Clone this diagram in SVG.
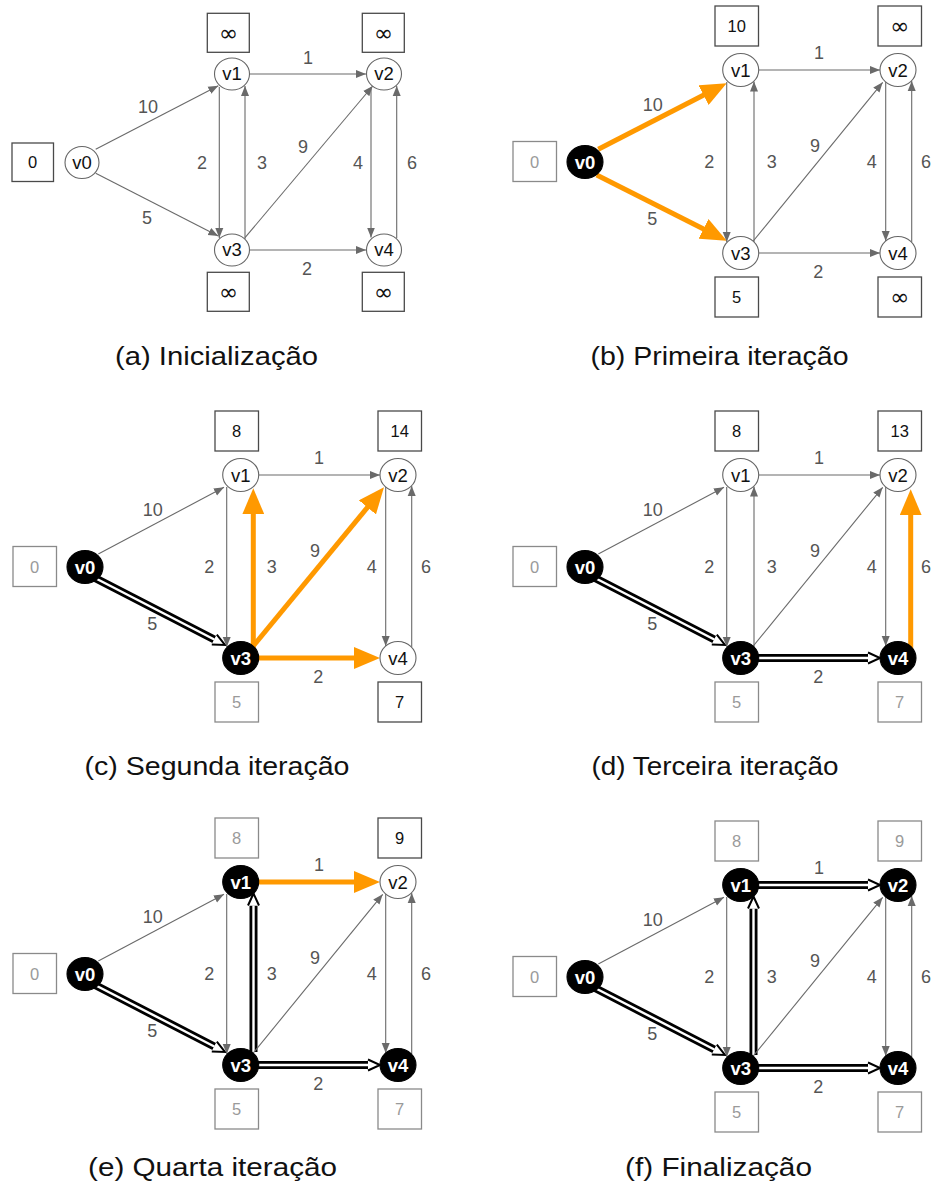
<svg xmlns="http://www.w3.org/2000/svg" width="931" height="1189" viewBox="0 0 931 1189">
<style>
  text { font-family: "Liberation Sans", Arial, sans-serif; text-anchor: middle; }
  .e { stroke: #6a6a6a; stroke-width: 1.1; fill: none; marker-end: url(#ag); }
  .o { stroke: #ff9900; stroke-width: 5; fill: none; marker-end: url(#ao); }
  .db { stroke: #000; stroke-width: 8; fill: none; marker-end: url(#ad); }
  .dw { stroke: #fff; stroke-width: 2.4; fill: none; }
  .lbl { font-size: 18px; fill: #555; }
  .n ellipse { fill: #fff; stroke: #666; stroke-width: 1.1; }
  .n text { font-size: 18.5px; fill: #111; }
  .nv ellipse { fill: #000; stroke: #000; stroke-width: 1.1; }
  .nv text { font-size: 18.5px; fill: #fff; font-weight: bold; }
  .bx rect { fill: #fff; stroke: #4a4a4a; stroke-width: 1.3; }
  .bx text { font-size: 16.5px; fill: #111; }
  .bl rect { fill: #fff; stroke: #8a8a8a; stroke-width: 1.3; }
  .bl text { font-size: 16.5px; fill: #9a9a9a; }
  .bx text.inf { font-family: "DejaVu Sans", sans-serif; font-size: 23px; }
  .cap { font-size: 26.5px; fill: #111; }
</style>
<defs>
  <marker id="ag" markerUnits="userSpaceOnUse" viewBox="0 0 10 10" markerWidth="10" markerHeight="10" refX="10" refY="5" orient="auto">
    <path d="M0,1 L10,5 L0,9 z" fill="#6a6a6a"/>
  </marker>
  <marker id="ao" markerUnits="userSpaceOnUse" viewBox="0 0 26 22" markerWidth="26" markerHeight="22" refX="15" refY="11" orient="auto">
    <path d="M0,0 L26,11 L0,22 z" fill="#ff9900"/>
  </marker>
  <marker id="ad" markerUnits="userSpaceOnUse" viewBox="-2 -8 17 16" markerWidth="17" markerHeight="16" refX="0" refY="0" orient="auto">
    <path d="M0,-5.5 L12,0 L0,5.5" fill="#fff" stroke="#000" stroke-width="2"/>
  </marker>
</defs>
<rect width="931" height="1189" fill="#fff"/>

<!-- (a) initialisation -->
<g id="panel-a">
  <g id="a-connectors">
    <line class="e" x1="95.7" y1="149.3" x2="218.3" y2="85.7"/>
    <line class="e" x1="95.7" y1="173.3" x2="218.3" y2="236"/>
    <line class="e" x1="219.3" y1="87" x2="219.3" y2="238"/>
    <line class="e" x1="245" y1="239" x2="245" y2="86"/>
    <line class="e" x1="250" y1="74" x2="366" y2="74"/>
    <line class="e" x1="250" y1="250" x2="366" y2="250"/>
    <line class="e" x1="245" y1="237.7" x2="372.7" y2="86"/>
    <line class="e" x1="371" y1="87" x2="371" y2="237.5"/>
    <line class="e" x1="396.7" y1="238" x2="396.7" y2="86"/>
    <text class="lbl" x="148" y="113">10</text>
    <text class="lbl" x="147" y="223.5">5</text>
    <text class="lbl" x="202" y="168.5">2</text>
    <text class="lbl" x="262" y="168.5">3</text>
    <text class="lbl" x="308" y="64">1</text>
    <text class="lbl" x="307" y="274.5">2</text>
    <text class="lbl" x="303" y="152.5">9</text>
    <text class="lbl" x="358" y="168.5">4</text>
    <text class="lbl" x="412" y="168.5">6</text>
  </g>
  <g id="a-v0" class="n"><ellipse cx="82" cy="162.5" rx="17" ry="16"/><text x="82" y="168.5">v0</text></g>
  <g id="a-v1" class="n"><ellipse cx="232" cy="74" rx="17.5" ry="16"/><text x="232" y="80">v1</text></g>
  <g id="a-v2" class="n"><ellipse cx="384" cy="74" rx="17.5" ry="16"/><text x="384" y="80">v2</text></g>
  <g id="a-v3" class="n"><ellipse cx="232" cy="250" rx="17.5" ry="16"/><text x="232" y="256">v3</text></g>
  <g id="a-v4" class="n"><ellipse cx="384" cy="250" rx="17.5" ry="16"/><text x="384" y="256">v4</text></g>
  <g id="a-d0" class="bx"><rect x="12" y="143" width="41.5" height="38.5"/><text x="32.7" y="168">0</text></g>
  <g id="a-d1" class="bx"><rect x="207.3" y="13.3" width="42" height="39"/><text class="inf" x="228.3" y="40.5">∞</text></g>
  <g id="a-d2" class="bx"><rect x="362.3" y="13.3" width="42" height="39"/><text class="inf" x="383.3" y="40.5">∞</text></g>
  <g id="a-d3" class="bx"><rect x="207.3" y="272.3" width="42" height="39"/><text class="inf" x="228.3" y="299.5">∞</text></g>
  <g id="a-d4" class="bx"><rect x="362.3" y="272.3" width="42" height="39"/><text class="inf" x="383.3" y="299.5">∞</text></g>
  <text class="cap" x="216.5" y="365" textLength="203" lengthAdjust="spacingAndGlyphs">(a) Inicialização</text>
</g>

<!-- (b) first iteration -->
<g id="panel-b">
  <g id="b-connectors">
    <line class="o" x1="598.3" y1="149.3" x2="716.9" y2="88.3"/>
    <line class="o" x1="596.7" y1="175" x2="716.9" y2="235.7"/>
    <line class="e" x1="726.7" y1="82" x2="726.7" y2="242"/>
    <line class="e" x1="754" y1="242" x2="754" y2="81.5"/>
    <line class="e" x1="758.7" y1="70" x2="880" y2="70"/>
    <line class="e" x1="758.7" y1="253" x2="880" y2="253"/>
    <line class="e" x1="753.3" y1="241" x2="882.7" y2="82.3"/>
    <line class="e" x1="885.7" y1="82" x2="885.7" y2="241"/>
    <line class="e" x1="911.7" y1="242" x2="911.7" y2="81"/>
    <text class="lbl" x="652.7" y="110.8">10</text>
    <text class="lbl" x="652.3" y="224.8">5</text>
    <text class="lbl" x="709.3" y="167.5">2</text>
    <text class="lbl" x="771.7" y="167.5">3</text>
    <text class="lbl" x="819" y="59.2">1</text>
    <text class="lbl" x="818.3" y="278.2">2</text>
    <text class="lbl" x="815" y="151.5">9</text>
    <text class="lbl" x="871.7" y="168.2">4</text>
    <text class="lbl" x="926" y="168.2">6</text>
  </g>
  <g id="b-v0" class="nv"><ellipse cx="585" cy="162" rx="18" ry="16.5"/><text x="585" y="168.5">v0</text></g>
  <g id="b-v1" class="n"><ellipse cx="740.7" cy="70" rx="18" ry="16.5"/><text x="740.7" y="76.5">v1</text></g>
  <g id="b-v2" class="n"><ellipse cx="898" cy="70" rx="18" ry="16.5"/><text x="898" y="76.5">v2</text></g>
  <g id="b-v3" class="n"><ellipse cx="740.7" cy="253" rx="18" ry="16.5"/><text x="740.7" y="259.5">v3</text></g>
  <g id="b-v4" class="n"><ellipse cx="898" cy="253" rx="18" ry="16.5"/><text x="898" y="259.5">v4</text></g>
  <g id="b-d0" class="bl"><rect x="513" y="141.5" width="43.5" height="40"/><text x="534.7" y="167.5">0</text></g>
  <g id="b-d1" class="bx"><rect x="715" y="6" width="43.5" height="40"/><text x="736.7" y="32">10</text></g>
  <g id="b-d2" class="bx"><rect x="878" y="6" width="43.5" height="40"/><text class="inf" x="899.7" y="34">∞</text></g>
  <g id="b-d3" class="bx"><rect x="715" y="277" width="43.5" height="40"/><text x="736.7" y="303">5</text></g>
  <g id="b-d4" class="bx"><rect x="878" y="277" width="43.5" height="40"/><text class="inf" x="899.7" y="305">∞</text></g>
  <text class="cap" x="719.5" y="365" textLength="258" lengthAdjust="spacingAndGlyphs">(b) Primeira iteração</text>
</g>

<!-- (c) second iteration -->
<g id="panel-c" transform="translate(-500,405)">
  <g id="c-connectors">
    <line class="e" x1="598.3" y1="149" x2="724" y2="82.3"/>
    <line class="db" x1="595" y1="173" x2="714.3" y2="234.5"/>
    <line class="dw" x1="595" y1="173" x2="714.3" y2="234.5"/>
    <line class="e" x1="726.7" y1="82" x2="726.7" y2="242"/>
    <line class="o" x1="753.3" y1="245" x2="753.3" y2="94.3"/>
    <line class="e" x1="758.7" y1="70" x2="880" y2="70"/>
    <line class="o" x1="758" y1="253" x2="869" y2="253"/>
    <line class="o" x1="753.3" y1="241" x2="877" y2="90.8"/>
    <line class="e" x1="885.7" y1="82" x2="885.7" y2="241"/>
    <line class="e" x1="911.7" y1="242" x2="911.7" y2="81"/>
    <text class="lbl" x="652.7" y="110.8">10</text>
    <text class="lbl" x="652.3" y="224.8">5</text>
    <text class="lbl" x="709.3" y="167.5">2</text>
    <text class="lbl" x="771.7" y="167.5">3</text>
    <text class="lbl" x="819" y="59.2">1</text>
    <text class="lbl" x="818.3" y="278.2">2</text>
    <text class="lbl" x="815" y="151.5">9</text>
    <text class="lbl" x="871.7" y="168.2">4</text>
    <text class="lbl" x="926" y="168.2">6</text>
  </g>
  <g id="c-v0" class="nv"><ellipse cx="585" cy="162" rx="18" ry="16.5"/><text x="585" y="168.5">v0</text></g>
  <g id="c-v1" class="n"><ellipse cx="740.7" cy="70" rx="18" ry="16.5"/><text x="740.7" y="76.5">v1</text></g>
  <g id="c-v2" class="n"><ellipse cx="898" cy="70" rx="18" ry="16.5"/><text x="898" y="76.5">v2</text></g>
  <g id="c-v3" class="nv"><ellipse cx="740.7" cy="253" rx="18" ry="16.5"/><text x="740.7" y="259.5">v3</text></g>
  <g id="c-v4" class="n"><ellipse cx="898" cy="253" rx="18" ry="16.5"/><text x="898" y="259.5">v4</text></g>
  <g id="c-d0" class="bl"><rect x="513" y="141.5" width="43.5" height="40"/><text x="534.7" y="167.5">0</text></g>
  <g id="c-d1" class="bx"><rect x="715" y="6" width="43.5" height="40"/><text x="736.7" y="32">8</text></g>
  <g id="c-d2" class="bx"><rect x="878" y="6" width="43.5" height="40"/><text x="899.7" y="32">14</text></g>
  <g id="c-d3" class="bl"><rect x="715" y="277" width="43.5" height="40"/><text x="736.7" y="303">5</text></g>
  <g id="c-d4" class="bx"><rect x="878" y="277" width="43.5" height="40"/><text x="899.7" y="303">7</text></g>
  <text class="cap" x="717" y="370" textLength="265" lengthAdjust="spacingAndGlyphs">(c) Segunda iteração</text>
</g>

<!-- (d) third iteration -->
<g id="panel-d" transform="translate(0,405)">
  <g id="d-connectors">
    <line class="e" x1="598.3" y1="149" x2="724" y2="82.3"/>
    <line class="db" x1="595" y1="173" x2="714.3" y2="234.5"/>
    <line class="dw" x1="595" y1="173" x2="714.3" y2="234.5"/>
    <line class="e" x1="726.7" y1="82" x2="726.7" y2="242"/>
    <line class="e" x1="754" y1="242" x2="754" y2="81.5"/>
    <line class="e" x1="758.7" y1="70" x2="880" y2="70"/>
    <line class="db" x1="757" y1="253" x2="868" y2="253"/>
    <line class="dw" x1="757" y1="253" x2="868" y2="253"/>
    <line class="e" x1="753.3" y1="241" x2="882.7" y2="82.3"/>
    <line class="e" x1="885.7" y1="82" x2="885.7" y2="241"/>
    <line class="o" x1="910.7" y1="245" x2="910.7" y2="95.3"/>
    <text class="lbl" x="652.7" y="110.8">10</text>
    <text class="lbl" x="652.3" y="224.8">5</text>
    <text class="lbl" x="709.3" y="167.5">2</text>
    <text class="lbl" x="771.7" y="167.5">3</text>
    <text class="lbl" x="819" y="59.2">1</text>
    <text class="lbl" x="818.3" y="278.2">2</text>
    <text class="lbl" x="815" y="151.5">9</text>
    <text class="lbl" x="871.7" y="168.2">4</text>
    <text class="lbl" x="926" y="168.2">6</text>
  </g>
  <g id="d-v0" class="nv"><ellipse cx="585" cy="162" rx="18" ry="16.5"/><text x="585" y="168.5">v0</text></g>
  <g id="d-v1" class="n"><ellipse cx="740.7" cy="70" rx="18" ry="16.5"/><text x="740.7" y="76.5">v1</text></g>
  <g id="d-v2" class="n"><ellipse cx="898" cy="70" rx="18" ry="16.5"/><text x="898" y="76.5">v2</text></g>
  <g id="d-v3" class="nv"><ellipse cx="740.7" cy="253" rx="18" ry="16.5"/><text x="740.7" y="259.5">v3</text></g>
  <g id="d-v4" class="nv"><ellipse cx="898" cy="253" rx="18" ry="16.5"/><text x="898" y="259.5">v4</text></g>
  <g id="d-d0" class="bl"><rect x="513" y="141.5" width="43.5" height="40"/><text x="534.7" y="167.5">0</text></g>
  <g id="d-d1" class="bx"><rect x="715" y="6" width="43.5" height="40"/><text x="736.7" y="32">8</text></g>
  <g id="d-d2" class="bx"><rect x="878" y="6" width="43.5" height="40"/><text x="899.7" y="32">13</text></g>
  <g id="d-d3" class="bl"><rect x="715" y="277" width="43.5" height="40"/><text x="736.7" y="303">5</text></g>
  <g id="d-d4" class="bl"><rect x="878" y="277" width="43.5" height="40"/><text x="899.7" y="303">7</text></g>
  <text class="cap" x="715" y="370" textLength="247" lengthAdjust="spacingAndGlyphs">(d) Terceira iteração</text>
</g>

<!-- (e) fourth iteration -->
<g id="panel-e" transform="translate(-500,812)">
  <g id="e-connectors">
    <line class="e" x1="598.3" y1="149" x2="724" y2="82.3"/>
    <line class="db" x1="595" y1="173" x2="714.3" y2="234.5"/>
    <line class="dw" x1="595" y1="173" x2="714.3" y2="234.5"/>
    <line class="e" x1="726.7" y1="82" x2="726.7" y2="242"/>
    <line class="db" x1="753.5" y1="240" x2="753.5" y2="93.5"/>
    <line class="dw" x1="753.5" y1="240" x2="753.5" y2="93.5"/>
    <line class="o" x1="758" y1="70" x2="869" y2="70"/>
    <line class="db" x1="757" y1="253" x2="868" y2="253"/>
    <line class="dw" x1="757" y1="253" x2="868" y2="253"/>
    <line class="e" x1="753.3" y1="241" x2="882.7" y2="82.3"/>
    <line class="e" x1="885.7" y1="82" x2="885.7" y2="241"/>
    <line class="e" x1="911.7" y1="242" x2="911.7" y2="81"/>
    <text class="lbl" x="652.7" y="110.8">10</text>
    <text class="lbl" x="652.3" y="224.8">5</text>
    <text class="lbl" x="709.3" y="167.5">2</text>
    <text class="lbl" x="771.7" y="167.5">3</text>
    <text class="lbl" x="819" y="59.2">1</text>
    <text class="lbl" x="818.3" y="278.2">2</text>
    <text class="lbl" x="815" y="151.5">9</text>
    <text class="lbl" x="871.7" y="168.2">4</text>
    <text class="lbl" x="926" y="168.2">6</text>
  </g>
  <g id="e-v0" class="nv"><ellipse cx="585" cy="162" rx="18" ry="16.5"/><text x="585" y="168.5">v0</text></g>
  <g id="e-v1" class="nv"><ellipse cx="740.7" cy="70" rx="18" ry="16.5"/><text x="740.7" y="76.5">v1</text></g>
  <g id="e-v2" class="n"><ellipse cx="898" cy="70" rx="18" ry="16.5"/><text x="898" y="76.5">v2</text></g>
  <g id="e-v3" class="nv"><ellipse cx="740.7" cy="253" rx="18" ry="16.5"/><text x="740.7" y="259.5">v3</text></g>
  <g id="e-v4" class="nv"><ellipse cx="898" cy="253" rx="18" ry="16.5"/><text x="898" y="259.5">v4</text></g>
  <g id="e-d0" class="bl"><rect x="513" y="141.5" width="43.5" height="40"/><text x="534.7" y="167.5">0</text></g>
  <g id="e-d1" class="bl"><rect x="715" y="6" width="43.5" height="40"/><text x="736.7" y="32">8</text></g>
  <g id="e-d2" class="bx"><rect x="878" y="6" width="43.5" height="40"/><text x="899.7" y="32">9</text></g>
  <g id="e-d3" class="bl"><rect x="715" y="277" width="43.5" height="40"/><text x="736.7" y="303">5</text></g>
  <g id="e-d4" class="bl"><rect x="878" y="277" width="43.5" height="40"/><text x="899.7" y="303">7</text></g>
  <text class="cap" x="712.5" y="364" textLength="249" lengthAdjust="spacingAndGlyphs">(e) Quarta iteração</text>
</g>

<!-- (f) final state -->
<g id="panel-f" transform="translate(0,815)">
  <g id="f-connectors">
    <line class="e" x1="598.3" y1="149" x2="724" y2="82.3"/>
    <line class="db" x1="595" y1="173" x2="714.3" y2="234.5"/>
    <line class="dw" x1="595" y1="173" x2="714.3" y2="234.5"/>
    <line class="e" x1="726.7" y1="82" x2="726.7" y2="242"/>
    <line class="db" x1="753.5" y1="240" x2="753.5" y2="93.5"/>
    <line class="dw" x1="753.5" y1="240" x2="753.5" y2="93.5"/>
    <line class="db" x1="757" y1="70" x2="868" y2="70"/>
    <line class="dw" x1="757" y1="70" x2="868" y2="70"/>
    <line class="db" x1="757" y1="253" x2="868" y2="253"/>
    <line class="dw" x1="757" y1="253" x2="868" y2="253"/>
    <line class="e" x1="753.3" y1="241" x2="882.7" y2="82.3"/>
    <line class="e" x1="885.7" y1="82" x2="885.7" y2="241"/>
    <line class="e" x1="911.7" y1="242" x2="911.7" y2="81"/>
    <text class="lbl" x="652.7" y="110.8">10</text>
    <text class="lbl" x="652.3" y="224.8">5</text>
    <text class="lbl" x="709.3" y="167.5">2</text>
    <text class="lbl" x="771.7" y="167.5">3</text>
    <text class="lbl" x="819" y="59.2">1</text>
    <text class="lbl" x="818.3" y="278.2">2</text>
    <text class="lbl" x="815" y="151.5">9</text>
    <text class="lbl" x="871.7" y="168.2">4</text>
    <text class="lbl" x="926" y="168.2">6</text>
  </g>
  <g id="f-v0" class="nv"><ellipse cx="585" cy="162" rx="18" ry="16.5"/><text x="585" y="168.5">v0</text></g>
  <g id="f-v1" class="nv"><ellipse cx="740.7" cy="70" rx="18" ry="16.5"/><text x="740.7" y="76.5">v1</text></g>
  <g id="f-v2" class="nv"><ellipse cx="898" cy="70" rx="18" ry="16.5"/><text x="898" y="76.5">v2</text></g>
  <g id="f-v3" class="nv"><ellipse cx="740.7" cy="253" rx="18" ry="16.5"/><text x="740.7" y="259.5">v3</text></g>
  <g id="f-v4" class="nv"><ellipse cx="898" cy="253" rx="18" ry="16.5"/><text x="898" y="259.5">v4</text></g>
  <g id="f-d0" class="bl"><rect x="513" y="141.5" width="43.5" height="40"/><text x="534.7" y="167.5">0</text></g>
  <g id="f-d1" class="bl"><rect x="715" y="6" width="43.5" height="40"/><text x="736.7" y="32">8</text></g>
  <g id="f-d2" class="bl"><rect x="878" y="6" width="43.5" height="40"/><text x="899.7" y="32">9</text></g>
  <g id="f-d3" class="bl"><rect x="715" y="277" width="43.5" height="40"/><text x="736.7" y="303">5</text></g>
  <g id="f-d4" class="bl"><rect x="878" y="277" width="43.5" height="40"/><text x="899.7" y="303">7</text></g>
  <text class="cap" x="718.5" y="361" textLength="187" lengthAdjust="spacingAndGlyphs">(f) Finalização</text>
</g>
</svg>
